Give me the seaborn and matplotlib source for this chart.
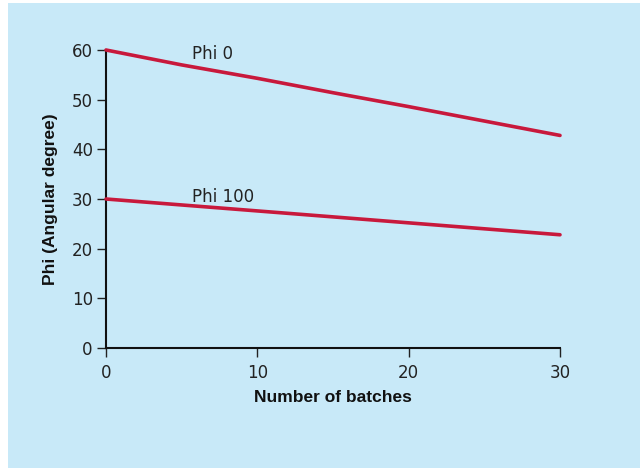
import matplotlib
matplotlib.use("Agg")
import matplotlib.pyplot as plt
import seaborn as sns
import pandas as pd
from matplotlib.patches import Rectangle

batches = [0, 5, 10, 15, 20, 25, 30]
phi_0 = [60, 57.0, 54.3, 51.4, 48.6, 45.7, 42.8]
phi_100 = [30, 28.8, 27.6, 26.4, 25.2, 24.0, 22.8]
series_names = ["Phi 0", "Phi 100"]
x_ticks = [0, 10, 20, 30]
y_ticks = [0, 10, 20, 30, 40, 50, 60]

df = pd.DataFrame({
    "batches": batches * 2,
    "phi": phi_0 + phi_100,
    "series": [series_names[0]] * len(batches) + [series_names[1]] * len(batches),
})

sns.set_theme(style="ticks")
plt.rcParams["font.family"] = ["DejaVu Sans"]

bg = "#c8e9f8"
red = "#c8193c"

fig = plt.figure(figsize=(6.4, 4.68), dpi=100)
fig.patch.set_facecolor("white")
fig.patches.append(Rectangle((8 / 640, 0), 1 - 8 / 640, 1 - 3 / 468,
                             transform=fig.transFigure, facecolor=bg,
                             edgecolor="none", zorder=-10))

ax = fig.add_axes([106 / 640, 1 - 348 / 468, (560 - 106) / 640, (348 - 50) / 468])
ax.set_facecolor("none")

sns.lineplot(data=df, x="batches", y="phi", hue="series",
             palette=[red, red], linewidth=2.6, legend=False, ax=ax,
             clip_on=False, zorder=5)

ax.set_xlim(0, 30)
ax.set_ylim(0, 60)
ax.set_xticks(x_ticks)
ax.set_yticks(y_ticks)
ax.tick_params(axis="both", direction="out", length=6.5, width=1.0,
               labelsize=12, colors="#222222", pad=3)
ax.tick_params(axis="x", pad=5)
for s in ["top", "right"]:
    ax.spines[s].set_visible(False)
for s in ["left", "bottom"]:
    ax.spines[s].set_linewidth(1.5)
    ax.spines[s].set_color("#111111")

lab_font = dict(family=["Liberation Sans", "DejaVu Sans"],
                fontweight="bold", fontsize=12.5, color="#111111")
ax.set_xlabel("Number of batches", labelpad=6, **lab_font)
ax.set_ylabel("Phi (Angular degree)", labelpad=10, **lab_font)

ax.text(5.65, 58.1, series_names[0], fontsize=12, color="#222222",
        ha="left", va="baseline")
ax.text(5.65, 29.4, series_names[1], fontsize=12, color="#222222",
        ha="left", va="baseline")

fig.savefig("out.png", dpi=100, facecolor=fig.get_facecolor())
